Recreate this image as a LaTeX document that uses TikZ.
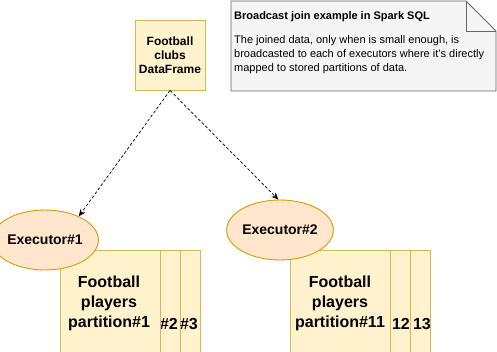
\documentclass[tikz,border=0pt]{standalone}
\usepackage{fontspec}
\setmainfont{Liberation Sans}
\usetikzlibrary{shapes.geometric,arrows.meta}
\definecolor{yfill}{HTML}{FFF2CC}
\definecolor{ydraw}{HTML}{D6B656}
\definecolor{ofill}{HTML}{FFE6CC}
\definecolor{odraw}{HTML}{D79B00}
\definecolor{nfill}{HTML}{F5F5F5}
\definecolor{ndraw}{HTML}{666666}
\tikzset{
  part/.style={draw=ydraw,fill=yfill,line width=0.9pt},
  parttext/.style={font=\bfseries\fontsize{16}{20}\selectfont,align=center,inner sep=0pt},
  exec/.style={ellipse,draw=odraw,fill=ofill,line width=0.9pt,minimum width=90pt,minimum height=60pt,inner sep=0pt,font=\bfseries\fontsize{14}{16}\selectfont},
  conn/.style={densely dashed,line width=0.7pt,-{Stealth[length=7pt,width=6pt]}}
}
\begin{document}
\begin{tikzpicture}[x=1pt,y=-1pt]
\useasboundingbox (0,0) rectangle (497,351);
% note
\draw[fill=nfill,draw=ndraw,line width=0.9pt] (231,1) -- (466,1) -- (496,31) -- (496,91) -- (231,91) -- cycle;
\draw[draw=ndraw,line width=0.9pt] (466,1) -- (466,31) -- (496,31);
\node[anchor=base west,inner sep=0pt,font=\bfseries\fontsize{11}{14}\selectfont] (ntitle) at (234,19) {Broadcast join example in Spark SQL};
\node[anchor=north west,inner sep=0pt,align=left,font=\fontsize{11}{14}\selectfont] (nbody) at (234,35) {The joined data, only when is small enough, is\\broadcasted to each of executors where it's directly\\mapped to stored partitions of data.};
% clubs box
\node[part,minimum width=70pt,minimum height=70pt,inner sep=0pt,align=center,font=\bfseries\fontsize{12}{14}\selectfont] (clubs) at (170,55) {Football\\clubs\\DataFrame};
% group 1
\draw[part] (100,250) rectangle (200,352);
\draw[part] (80,250) rectangle (180,352);
\begin{scope}
\clip (180.5,250) rectangle (200,351);
\node[parttext,anchor=base east] (p13) at (198,329) {\#3};
\end{scope}
\begin{scope}
\clip (160.5,250) rectangle (180,351);
\node[parttext,anchor=base east] (p12) at (178,329) {\#2};
\end{scope}
\draw[part] (60,250) rectangle (160,352);
\node[parttext] (p11) at (109,303) {Football\\players\\partition\#1};
% group 2
\draw[part] (330,250) rectangle (430,352);
\draw[part] (310,250) rectangle (410,352);
\node[parttext,anchor=base east] (p213) at (431,329) {13};
\node[parttext,anchor=base east] (p212) at (410,329) {12};
\draw[part] (290,250) rectangle (390,352);
\node[parttext] (p211) at (340,303) {Football\\players\\partition\#11};
% executors
\node[exec] (ex1) at (45,240) {Executor\#1};
\node[exec] (ex2) at (280,230) {Executor\#2};
% connectors
\draw[conn] (clubs.south) -- (ex1.35);
\draw[conn] (clubs.south) -- (ex2.93);
\end{tikzpicture}
\end{document}
